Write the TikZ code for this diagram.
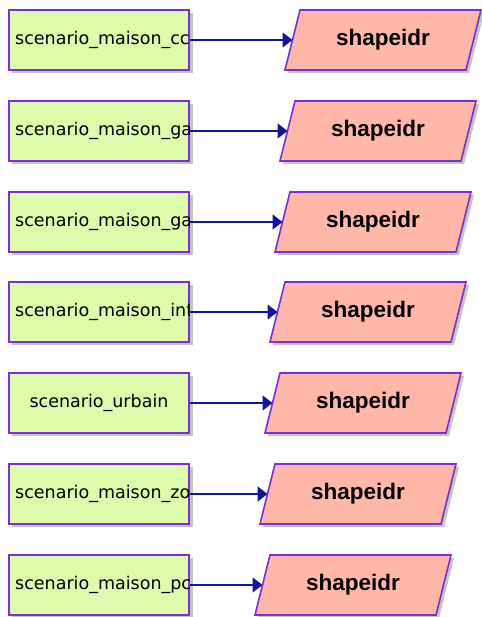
\documentclass[tikz,border=0pt]{standalone}
\usepackage{fontspec}
\setmainfont{DejaVu Sans}
\newfontfamily\boldlab{Liberation Sans}
\usetikzlibrary{arrows.meta,calc}
\definecolor{boxgreen}{HTML}{DDFBAA}
\definecolor{boxpink}{HTML}{FFB8A8}
\definecolor{edgepurple}{HTML}{7A30D8}
\definecolor{arrowblue}{HTML}{1414A0}
\definecolor{shadowgray}{HTML}{C4C4C4}
\tikzset{
  scenbox/.style={draw=edgepurple, line width=1.6pt, fill=boxgreen, minimum width=180.5pt, minimum height=59.5pt, inner sep=0pt},
  scentext/.style={inner sep=0pt, font=\fontsize{17.5}{20}\selectfont},
  shapebox/.style={draw=edgepurple, line width=1.6pt, fill=boxpink},
  shapetext/.style={inner sep=0pt, font=\boldlab\fontsize{22.5}{25}\selectfont\bfseries},
  link/.style={draw=arrowblue, line width=1.8pt, -{Triangle[length=10pt,width=15pt]}},
  dropshade/.style={fill=shadowgray}
}
\begin{document}
\begin{tikzpicture}[x=1pt,y=-1pt]
\useasboundingbox (0,0) rectangle (481,617);
\foreach \i/\txt/\mode in {1/scenario\_maison\_cc/l,2/scenario\_maison\_ga/l,3/scenario\_maison\_ga/l,4/scenario\_maison\_int/l,5/scenario\_urbain/c,6/scenario\_maison\_zo/l,7/scenario\_maison\_pc/l}{
  \pgfmathsetmacro{\ym}{round(40+90.75*(\i-1))}
  \pgfmathsetmacro{\xt}{300-5*(\i-1)}
  % green box
  \fill[dropshade] (11.5,\ym-27) rectangle (192.5,\ym+33);
  \node[scenbox] (s\i) at (99,\ym) {};
  \begin{scope}
    \clip ($(s\i.south west)+(1,-1)$) rectangle ($(s\i.north east)+(-1,1)$);
    \if\mode l
      \node[scentext, anchor=west] (t\i) at (15,\ym) {\txt};
    \else
      \node[scentext] (t\i) at (99,\ym) {\txt};
    \fi
  \end{scope}
  % parallelogram
  \fill[dropshade] (\xt+3,\ym-27) -- (\xt+184,\ym-27) -- (\xt+169,\ym+33) -- (\xt-12,\ym+33) -- cycle;
  \draw[shapebox] (\xt,\ym-30) -- (\xt+181,\ym-30) -- (\xt+166,\ym+30) -- (\xt-15,\ym+30) -- cycle;
  \node[shapetext] (p\i) at (\xt+83,\ym) {shapeidr};
  \coordinate (q\i) at (\xt-7.5,\ym);
  \draw[link] (s\i.east) -- (q\i);
}
\end{tikzpicture}
\end{document}
